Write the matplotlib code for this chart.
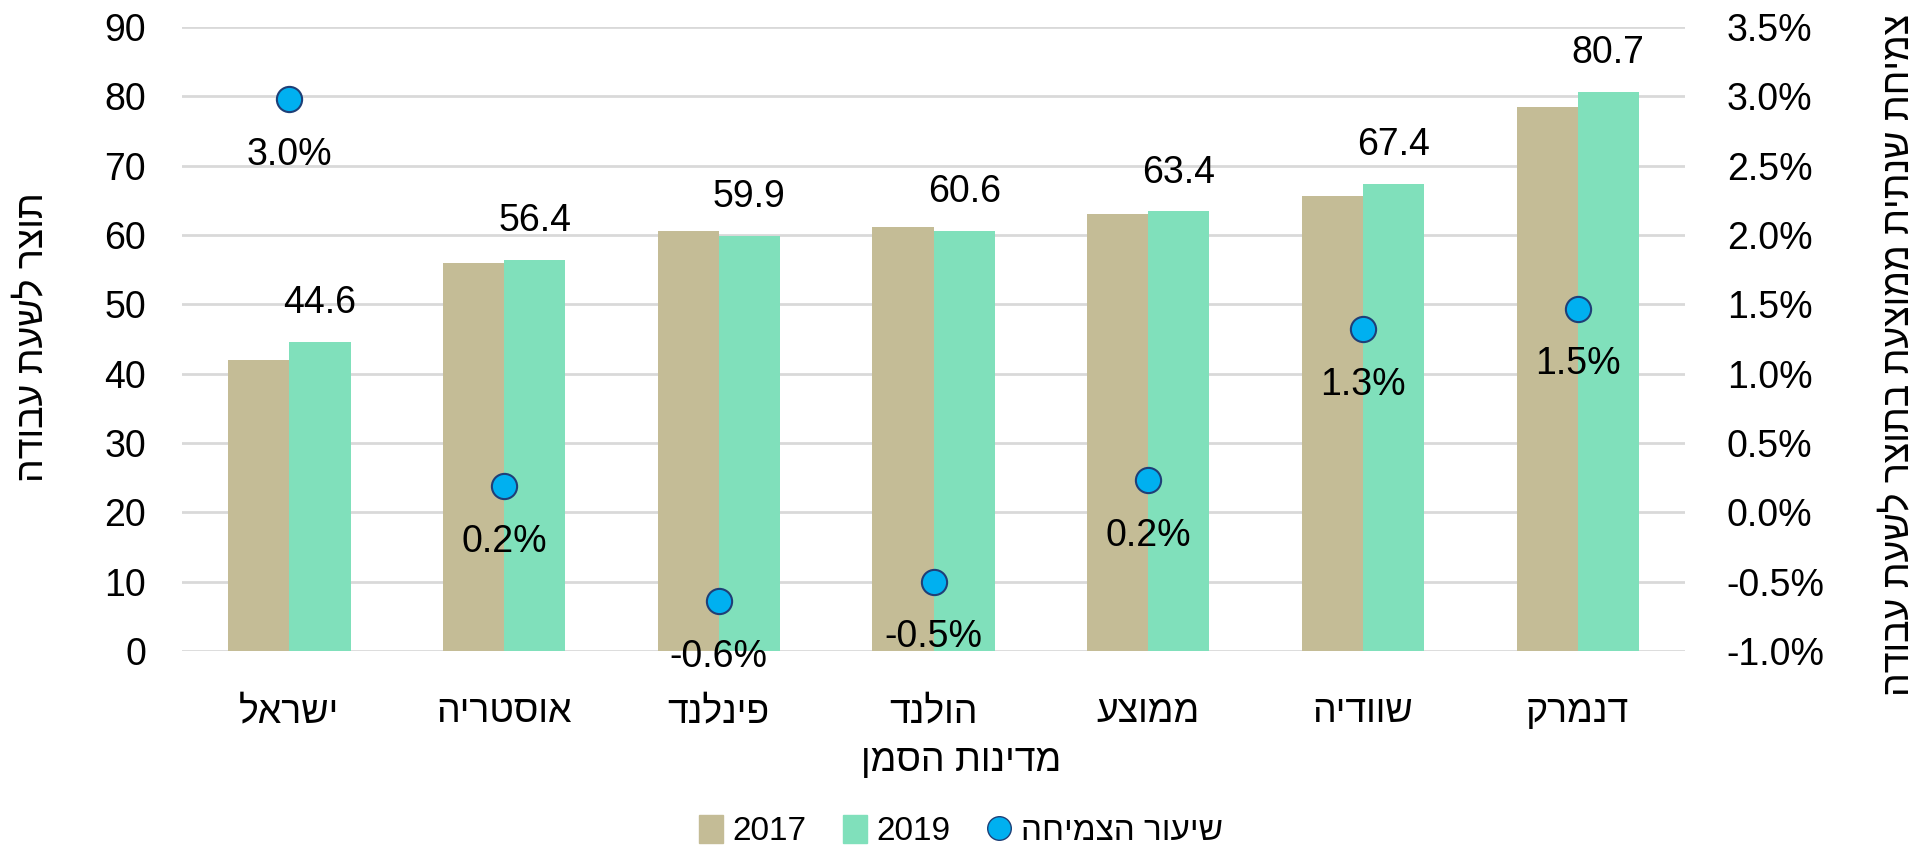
import numpy as np
import matplotlib
matplotlib.use("Agg")
import matplotlib.pyplot as plt
from matplotlib.patches import Patch
from matplotlib.lines import Line2D

plt.rcParams["font.family"] = ["Liberation Sans", "DejaVu Sans"]

# data (Hebrew strings kept in logical order, reversed for display)
countries = ["ישראל", "אוסטריה", "פינלנד", "הולנד", "ממוצע", "שוודיה", "דנמרק"]
prod_2017 = [42.0, 56.0, 60.6, 61.1, 63.1, 65.7, 78.4]
prod_2019 = [44.6, 56.4, 59.9, 60.6, 63.4, 67.4, 80.7]
growth = [2.98, 0.19, -0.64, -0.50, 0.23, 1.32, 1.47]

left_title = "תוצר לשעת עבודה"
right_title = "צמיחת שנתית ממוצעת בתוצר לשעת עבודה"
x_title = "מדינות הסמן"
growth_name = "שיעור הצמיחה"

C2017 = "#C4BC96"
C2019 = "#80E0BB"
CDOT = "#00B0F0"


def heb(s):
    return s[::-1]


def main():
    fig = plt.figure(figsize=(19.26, 8.48), dpi=100)
    ax = fig.add_axes([0.0945, 0.2323, 0.7804, 0.7358])
    ax2 = ax.twinx()

    x = np.arange(len(countries))
    w = 0.285
    ax.bar(x - w / 2, prod_2017, w, color=C2017, zorder=2)
    ax.bar(x + w / 2, prod_2019, w, color=C2019, zorder=2)
    for xi, v in zip(x, prod_2019):
        ax.annotate(f"{v:.1f}", (xi + w / 2, v), xytext=(0, 28),
                    textcoords="offset points", ha="center", va="center",
                    fontsize=27)

    ax.set_ylim(0, 90)
    ax.set_xlim(-0.5, len(countries) - 0.5)
    ax.set_yticks(range(0, 91, 10))
    ax.yaxis.grid(True, color="#D9D9D9", linewidth=2)
    ax.set_axisbelow(True)
    ax.set_xticks(x)
    ax.set_xticklabels([heb(c) for c in countries], fontsize=27)
    ax.tick_params(axis="y", length=0, labelsize=27, pad=26)
    ax.tick_params(axis="x", length=0, pad=31)
    for s in ax.spines.values():
        s.set_visible(False)

    ax2.scatter(x, growth, s=330, color=CDOT, edgecolor="#1F3F77",
                linewidth=1.5, zorder=5)
    for xi, g in zip(x, growth):
        ax2.annotate(f"{g:.1f}%", (xi, g), xytext=(0, -40),
                     textcoords="offset points", ha="center", va="center",
                     fontsize=27)
    ax2.set_ylim(-1.0, 3.5)
    ax2.set_yticks(np.arange(-1.0, 3.51, 0.5))
    ax2.set_yticklabels([f"{t:.1f}%" for t in np.arange(-1.0, 3.51, 0.5)])
    ax2.tick_params(axis="y", length=0, labelsize=27, pad=30)
    for s in ax2.spines.values():
        s.set_visible(False)

    fig.text(0.017, 0.603, heb(left_title), rotation=90, ha="center",
             va="center", fontsize=27)
    fig.text(0.9855, 0.581, heb(right_title), rotation=90, ha="center",
             va="center", fontsize=27)
    fig.text(0.499, 0.103, heb(x_title), ha="center", va="center", fontsize=27)

    handles = [
        Patch(color=C2017, label="2017"),
        Patch(color=C2019, label="2019"),
        Line2D([], [], marker="o", linestyle="none", markersize=17,
               markerfacecolor=CDOT, markeredgecolor="#1F3F77",
               label=heb(growth_name)),
    ]
    fig.legend(handles=handles, loc="center", bbox_to_anchor=(0.499, 0.02),
               ncol=3, frameon=False, fontsize=24, handlelength=0.7,
               handleheight=0.9, handletextpad=0.3, columnspacing=1.1)

    fig.savefig("out.png", dpi=100)


if __name__ == "__main__":
    main()
